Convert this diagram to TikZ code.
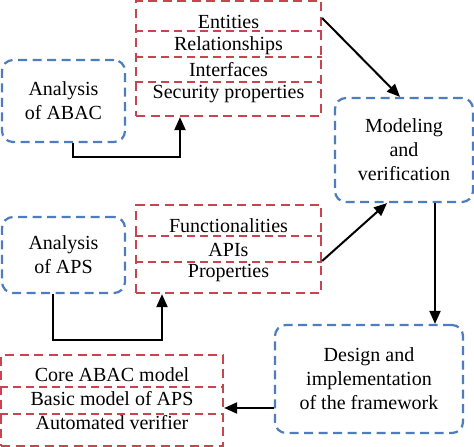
\documentclass[tikz,border=0pt]{standalone}
\usepackage{fontspec}
\setmainfont{Liberation Serif}
\usetikzlibrary{arrows.meta,positioning}

\definecolor{dblue}{RGB}{78,124,190}
\definecolor{dred}{RGB}{200,68,78}

\begin{document}
\begin{tikzpicture}[>={Triangle[length=13pt,width=11pt]},x=1pt,y=-1pt,
  blk/.style={draw=dblue,dash pattern=on 9pt off 5.5pt,line width=2.2pt,
              rounded corners=11pt,align=center,inner sep=0pt,
              font=\fontsize{20}{24}\selectfont},
  grp/.style={draw=dred,dash pattern=on 9pt off 5.5pt,line width=2.2pt,
              inner sep=0pt},
  sep/.style={draw=dred,dash pattern=on 8pt off 5pt,line width=1.8pt},
  row/.style={font=\fontsize{20}{24}\selectfont,inner sep=0pt},
  arr/.style={->,line width=2pt}]
\useasboundingbox (0,0) rectangle (474,447);
% analysis boxes
\node[blk,minimum width=123pt,minimum height=82pt] (anaABAC) at (63.5,101)
  {Analysis\\of ABAC};
\node[blk,minimum width=123pt,minimum height=76pt] (anaAPS) at (63.5,255)
  {Analysis\\of APS};
\node[blk,minimum width=138pt,minimum height=104pt] (model) at (404,150)
  {Modeling\\and\\verification};
\node[blk,minimum width=188pt,minimum height=108pt] (design) at (369,379)
  {Design and\\implementation\\of the framework};
% grouped items
\node[grp,minimum width=185pt,minimum height=115pt] (abacR) at (228.5,58.5) {};
\node[row] (ent) at (228.5,22) {Entities};
\node[row] (rel) at (228.5,46) {Relationships};
\node[row] (itf) at (228.5,70) {Interfaces};
\node[row] (sec) at (228.5,94) {Security properties};
\draw[sep] (abacR.west |- 0,31) -- (abacR.east |- 0,31);
\draw[sep] (abacR.west |- 0,57) -- (abacR.east |- 0,57);
\draw[sep] (abacR.west |- 0,82) -- (abacR.east |- 0,82);
\node[grp,minimum width=185pt,minimum height=88pt] (apsR) at (228.5,249) {};
\node[row] (fun) at (228.5,226) {Functionalities};
\node[row] (api) at (228.5,250) {APIs};
\node[row] (prp) at (228.5,273) {Properties};
\draw[sep] (apsR.west |- 0,236) -- (apsR.east |- 0,236);
\draw[sep] (apsR.west |- 0,262) -- (apsR.east |- 0,262);
\node[grp,minimum width=222pt,minimum height=91pt] (coreR) at (112,400.5) {};
\node[row] (core) at (112,375) {Core ABAC model};
\node[row] (basic) at (112,399) {Basic model of APS};
\node[row] (auto) at (112,423) {Automated verifier};
\draw[sep] (coreR.west |- 0,387) -- (coreR.east |- 0,387);
\draw[sep] (coreR.west |- 0,414) -- (coreR.east |- 0,414);
% connectors
\draw[arr] ([xshift=9.5pt]anaABAC.south) -- ++(0,14) -| ([xshift=-48.5pt]abacR.south);
\draw[arr] ([xshift=-10.5pt]anaAPS.south) -- ++(0,46) -| ([xshift=-66.5pt]apsR.south);
\draw[arr] ([yshift=40.5pt]abacR.east) -- ([xshift=-4pt]model.north);
\draw[arr] ([yshift=-12pt]apsR.east) -- ([xshift=-17pt]model.south);
\draw[arr] ([xshift=31pt]model.south) -- ([xshift=31pt]model.south |- design.north);
\draw[arr] ([yshift=-29pt]design.west) -- ([yshift=-29pt]design.west -| coreR.east);
\end{tikzpicture}
\end{document}
